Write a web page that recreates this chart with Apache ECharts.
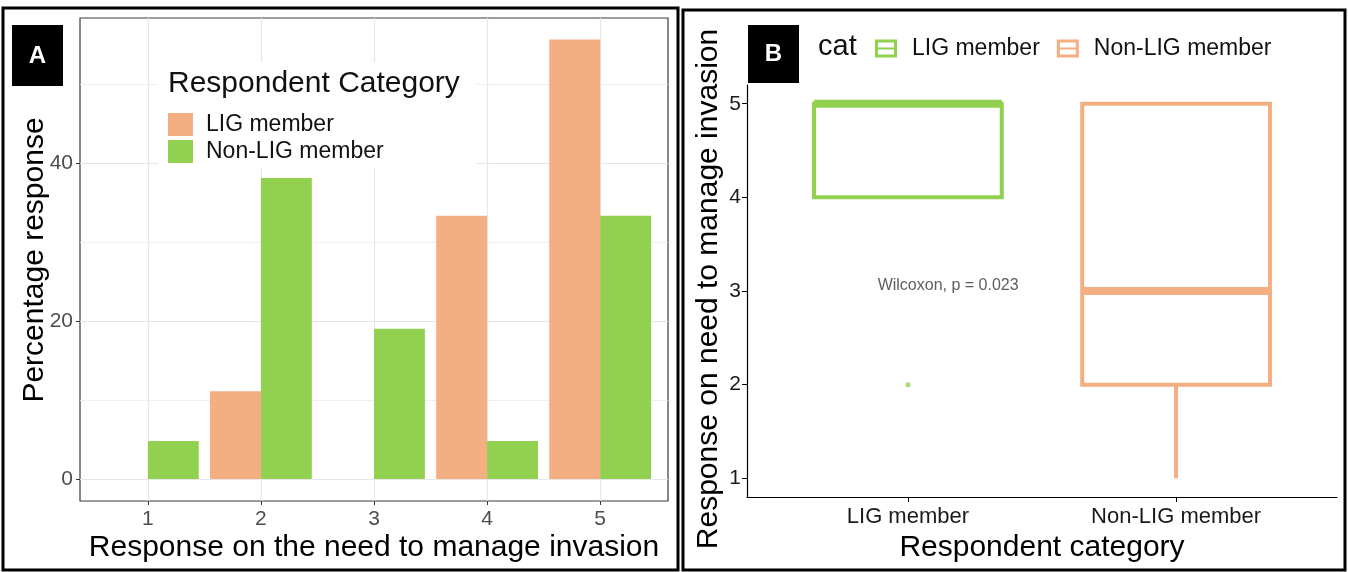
<!DOCTYPE html>
<html>
<head>
<meta charset="utf-8">
<script src="https://cdn.jsdelivr.net/npm/echarts@6/dist/echarts.min.js"></script>
<style>
  html, body { margin: 0; padding: 0; background: #ffffff; }
  #chart { width: 1348px; height: 572px; }
</style>
</head>
<body>
<div id="chart"></div>
<script>
// Panel A: percentage of respondents giving each response level
const responseLevels = [1, 2, 3, 4, 5];
const ligPercent = [0, 11.1, 0, 33.3, 55.6];
const nonLigPercent = [4.8, 38.1, 19.0, 4.8, 33.3];
const percentTicks = [0, 20, 40];
const percentMinorTicks = [10, 30, 50];

// Panel B: box statistics per respondent group
const groups = ['LIG member', 'Non-LIG member'];
// [lower whisker, Q1, median, Q3, upper whisker]
const ligBox = [4, 4, 5, 5, 5];
const nonLigBox = [1, 2, 3, 5, 5];
const ligOutliers = [2];
const responseTicks = [1, 2, 3, 4, 5];
const testLabel = 'Wilcoxon, p = 0.023';

const ORANGE = '#F3AE82';
const GREEN = '#92D050';
const FONT = '"Liberation Sans", Arial, sans-serif';

// Dodged bar: side -1 sits left of the level, +1 sits right of it
function dodgedBar(side) {
  return function (params, api) {
    const x = api.value(0);
    const v = api.value(1);
    if (!v) return null;
    const half = 0.45;
    const x0 = side < 0 ? x - half : x;
    const p0 = api.coord([x0, v]);
    const p1 = api.coord([x0 + half, 0]);
    return {
      type: 'rect',
      shape: { x: p0[0], y: p0[1], width: p1[0] - p0[0], height: p1[1] - p0[1] },
      style: { fill: api.visual('color') }
    };
  };
}

// Box with whiskers and a thick median line
function boxShape(params, api) {
  const x = api.value(0);
  const lo = api.value(1), q1 = api.value(2), med = api.value(3), q3 = api.value(4), hi = api.value(5);
  const half = 0.35;
  const color = api.visual('color');
  const tl = api.coord([x - half, q3]);
  const br = api.coord([x + half, q1]);
  const m = api.coord([x, med]);
  const yLo = api.coord([x, lo])[1];
  const yHi = api.coord([x, hi])[1];
  const children = [];
  if (yHi < tl[1]) {
    children.push({ type: 'line', shape: { x1: m[0], y1: tl[1], x2: m[0], y2: yHi }, style: { stroke: color, lineWidth: 4 } });
  }
  if (yLo > br[1]) {
    children.push({ type: 'line', shape: { x1: m[0], y1: br[1], x2: m[0], y2: yLo }, style: { stroke: color, lineWidth: 4 } });
  }
  children.push({
    type: 'rect',
    shape: { x: tl[0], y: tl[1], width: br[0] - tl[0], height: br[1] - tl[1] },
    style: { fill: 'none', stroke: color, lineWidth: 4 }
  });
  children.push({ type: 'line', shape: { x1: tl[0], y1: m[1], x2: br[0], y2: m[1] }, style: { stroke: color, lineWidth: 8 } });
  return { type: 'group', children: children };
}

const barData = (vals) => responseLevels.map((lvl, i) => [lvl, vals[i]]);
const boxRow = (idx, stats) => [idx + 1].concat(stats);

const boxIcon = 'path://M0,0H22V18H0Z M3,3V8H19V3Z M3,10V15H19V10Z';

const chart = echarts.init(document.getElementById('chart'), null, { renderer: 'canvas' });

chart.setOption({
  animation: false,
  backgroundColor: '#ffffff',
  textStyle: { fontFamily: FONT },
  grid: [
    { left: 80, top: 18, width: 588, height: 483, show: true, borderColor: '#3A3A3A', borderWidth: 1.2, backgroundColor: 'transparent' },
    { left: 747, top: 85, width: 590, height: 412 }
  ],
  xAxis: [
    {
      type: 'value', gridIndex: 0, min: 0.4, max: 5.6,
      axisLine: { show: false, onZero: false },
      axisTick: { show: true, length: 4, customValues: responseLevels, lineStyle: { color: '#333333' } },
      axisLabel: { customValues: responseLevels, color: '#4D4D4D', fontSize: 21, margin: 8, fontFamily: FONT },
      splitLine: { show: true, lineStyle: { color: '#E6E6E6', width: 1.2 } }
    },
    {
      type: 'value', gridIndex: 1, min: 0.4, max: 2.6,
      axisLine: { show: true, onZero: false, lineStyle: { color: '#000000', width: 1.2 } },
      axisTick: { show: true, length: 5, customValues: [1, 2], lineStyle: { color: '#000000' } },
      axisLabel: { customValues: [1, 2], color: '#1A1A1A', fontSize: 22, margin: 9, fontFamily: FONT,
        formatter: (v) => groups[Math.round(v) - 1] },
      splitLine: { show: false }
    }
  ],
  yAxis: [
    {
      type: 'value', gridIndex: 0, min: -2.78, max: 58.33,
      axisLine: { show: false, onZero: false },
      axisTick: { show: true, length: 4, customValues: percentTicks, lineStyle: { color: '#333333' } },
      axisLabel: { customValues: percentTicks, color: '#4D4D4D', fontSize: 21, margin: 7, fontFamily: FONT },
      splitLine: { show: true, lineStyle: { color: '#E6E6E6', width: 1.2 } }
    },
    {
      type: 'value', gridIndex: 0, min: -2.78, max: 58.33, position: 'left',
      axisLine: { show: false, onZero: false },
      axisTick: { show: false, customValues: percentMinorTicks },
      axisLabel: { show: false },
      splitLine: { show: true, lineStyle: { color: '#EDEDED', width: 0.9 } }
    },
    {
      type: 'value', gridIndex: 1, min: 0.8, max: 5.2,
      axisLine: { show: true, onZero: false, lineStyle: { color: '#000000', width: 1.2 } },
      axisTick: { show: true, length: 5, customValues: responseTicks, lineStyle: { color: '#000000' } },
      axisLabel: { customValues: responseTicks, color: '#1A1A1A', fontSize: 21, margin: 6, fontFamily: FONT },
      splitLine: { show: false }
    }
  ],
  legend: [
    {
      data: ['LIG member', 'Non-LIG member'],
      orient: 'vertical', left: 168, top: 113, padding: 0,
      itemWidth: 25, itemHeight: 23, itemGap: 4, icon: 'rect',
      selectedMode: false,
      textStyle: { fontSize: 23, color: '#111111', fontFamily: FONT, padding: [0, 0, 0, 8] }
    },
    {
      data: ['B:LIG member', 'B:Non-LIG member'],
      orient: 'horizontal', left: 875, top: 37, padding: 0,
      itemWidth: 22, itemHeight: 18, itemGap: 17, icon: boxIcon,
      selectedMode: false,
      formatter: (name) => name.replace(/^B:/, ''),
      textStyle: { fontSize: 23, color: '#111111', fontFamily: FONT, padding: [0, 0, 0, 10] }
    }
  ],
  series: [
    {
      name: 'LIG member', type: 'custom', xAxisIndex: 0, yAxisIndex: 0,
      itemStyle: { color: ORANGE }, renderItem: dodgedBar(-1),
      encode: { x: 0, y: 1 }, data: barData(ligPercent), z: 2
    },
    {
      name: 'Non-LIG member', type: 'custom', xAxisIndex: 0, yAxisIndex: 0,
      itemStyle: { color: GREEN }, renderItem: dodgedBar(1),
      encode: { x: 0, y: 1 }, data: barData(nonLigPercent), z: 2
    },
    {
      name: 'B:LIG member', type: 'custom', xAxisIndex: 1, yAxisIndex: 2,
      itemStyle: { color: GREEN }, renderItem: boxShape,
      encode: { x: 0, y: [1, 2, 3, 4, 5] }, data: [boxRow(0, ligBox)]
    },
    {
      name: 'B:Non-LIG member', type: 'custom', xAxisIndex: 1, yAxisIndex: 2,
      itemStyle: { color: ORANGE }, renderItem: boxShape,
      encode: { x: 0, y: [1, 2, 3, 4, 5] }, data: [boxRow(1, nonLigBox)]
    },
    {
      name: 'outliers', type: 'scatter', xAxisIndex: 1, yAxisIndex: 2,
      symbol: 'circle', symbolSize: 5, itemStyle: { color: GREEN },
      data: ligOutliers.map((v) => [1, v])
    },
    {
      name: 'test', type: 'scatter', xAxisIndex: 1, yAxisIndex: 2,
      symbolSize: 0, silent: true,
      label: { show: true, position: 'inside', formatter: testLabel, fontSize: 16, color: '#333333', fontFamily: FONT },
      data: [[1.15, 3.06]]
    }
  ],
  graphic: [
    // panel frames
    { type: 'rect', z: 1, shape: { x: 3, y: 8, width: 675, height: 562 }, style: { fill: 'none', stroke: '#000000', lineWidth: 3 } },
    { type: 'rect', z: 1, shape: { x: 683, y: 10, width: 662, height: 560 }, style: { fill: 'none', stroke: '#000000', lineWidth: 3 } },
    // panel tags
    { type: 'rect', z: 5, shape: { x: 12, y: 25, width: 51, height: 61 }, style: { fill: '#000000' } },
    { type: 'text', z: 6, x: 37.5, y: 56, style: { text: 'A', fill: '#ffffff', font: 'bold 24px ' + FONT, align: 'center', verticalAlign: 'middle' } },
    { type: 'rect', z: 5, shape: { x: 748, y: 25, width: 51, height: 58 }, style: { fill: '#000000' } },
    { type: 'text', z: 6, x: 773.5, y: 54, style: { text: 'B', fill: '#ffffff', font: 'bold 24px ' + FONT, align: 'center', verticalAlign: 'middle' } },
    // legend backing and title (panel A)
    { type: 'rect', z: 3, shape: { x: 158, y: 62, width: 318, height: 106 }, style: { fill: '#ffffff' } },
    { type: 'text', z: 6, x: 168, y: 84, style: { text: 'Respondent Category', fill: '#111111', font: '30px ' + FONT, align: 'left', verticalAlign: 'middle' } },
    // legend title (panel B)
    { type: 'text', z: 6, x: 818, y: 47, style: { text: 'cat', fill: '#111111', font: '29px ' + FONT, align: 'left', verticalAlign: 'middle' } },
    // axis titles
    { type: 'text', z: 6, x: 374, y: 548, style: { text: 'Response on the need to manage invasion', fill: '#000000', font: '30px ' + FONT, align: 'center', verticalAlign: 'middle' } },
    { type: 'text', z: 6, x: 35, y: 260, rotation: Math.PI / 2, style: { text: 'Percentage response', fill: '#000000', font: '30px ' + FONT, align: 'center', verticalAlign: 'middle' } },
    { type: 'text', z: 6, x: 1042, y: 548, style: { text: 'Respondent category', fill: '#000000', font: '30px ' + FONT, align: 'center', verticalAlign: 'middle' } },
    { type: 'text', z: 6, x: 709, y: 289, rotation: Math.PI / 2, style: { text: 'Response on need to manage invasion', fill: '#000000', font: '30px ' + FONT, align: 'center', verticalAlign: 'middle' } }
  ]
});
</script>
</body>
</html>
